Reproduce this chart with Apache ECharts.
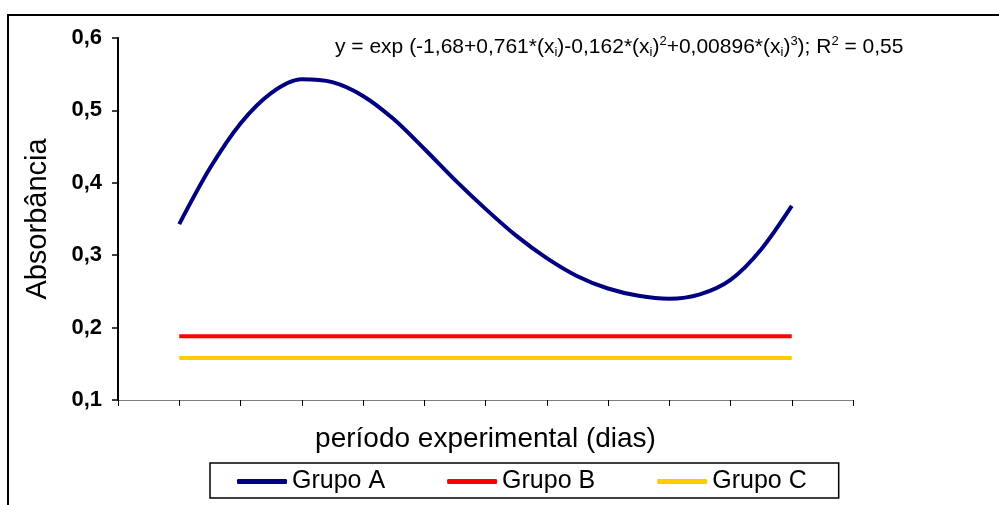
<!DOCTYPE html>
<html>
<head>
<meta charset="utf-8">
<script src="https://cdn.jsdelivr.net/npm/echarts@6/dist/echarts.min.js"></script>
<style>
  html, body { margin: 0; padding: 0; background: #fff; }
  #chart { width: 999px; height: 505px; }
</style>
</head>
<body>
<div id="chart"></div>
<script>
// dias (eixo x) e valores
const diasA = [1, 1.5, 2, 2.5, 3, 3.5, 4, 4.5, 5, 5.5, 6, 6.5, 7, 7.5, 8, 8.5, 9, 9.5, 10, 10.5, 11]
const grupoA = [0.343, 0.420, 0.482, 0.524, 0.543, 0.539, 0.520, 0.488, 0.447, 0.404, 0.364, 0.327, 0.296, 0.271, 0.254, 0.244, 0.240, 0.246, 0.266, 0.308, 0.368]
const diasBC = [1, 11]
const grupoB = [0.188, 0.188]
const grupoC = [0.158, 0.158]
const yTicks = [0.1, 0.2, 0.3, 0.4, 0.5, 0.6]

const pares = (xs, ys) => xs.map((x, i) => [x, ys[i]])

const chart = echarts.init(document.getElementById('chart'))
chart.setOption({
  animation: false,
  textStyle: { fontFamily: 'Liberation Sans, Arial, sans-serif', color: '#000' },
  // moldura externa
  graphic: [{
    type: 'rect',
    shape: { x: 8, y: 15, width: 1200, height: 600 },
    style: { fill: 'none', stroke: '#000', lineWidth: 2 },
    silent: true
  }],
  title: {
    left: 330,
    top: 30,
    text: 'y = exp (-1,68+0,761*(x{s|i})-0,162*(x{s|i}){p|2}+0,00896*(x{s|i}){p|3}); R{p|2} = 0,55',
    textStyle: {
      fontSize: 21,
      fontWeight: 'normal',
      color: '#000',
      rich: {
        s: { fontSize: 13, padding: [9, 0, 0, 0] },
        p: { fontSize: 13, padding: [0, 0, 12, 0] }
      }
    }
  },
  grid: { left: 118, right: 146, top: 38, bottom: 105 },
  xAxis: {
    type: 'value',
    min: 0,
    max: 12,
    interval: 1,
    name: 'período experimental (dias)',
    nameLocation: 'middle',
    nameGap: 25,
    nameTextStyle: { fontSize: 28, color: '#000' },
    axisLine: { lineStyle: { color: '#808080', width: 1 } },
    axisTick: { length: 6, lineStyle: { color: '#000' } },
    axisLabel: { show: false },
    splitLine: { show: false }
  },
  yAxis: {
    type: 'value',
    min: yTicks[0],
    max: yTicks[yTicks.length - 1],
    interval: 0.1,
    name: 'Absorbância',
    nameLocation: 'middle',
    nameGap: 66,
    nameTextStyle: { fontSize: 29, color: '#000' },
    axisLine: { show: true, lineStyle: { color: '#000', width: 2 } },
    axisTick: { show: true, length: 6, lineStyle: { color: '#000', width: 1.5 } },
    axisLabel: {
      fontSize: 22,
      fontWeight: 'bold',
      color: '#000',
      margin: 16,
      formatter: v => v.toFixed(1).replace('.', ',')
    },
    splitLine: { show: false }
  },
  legend: {
    left: 210,
    top: 463,
    orient: 'horizontal',
    icon: 'roundRect',
    itemWidth: 50,
    itemHeight: 5,
    itemGap: 62,
    borderColor: '#000',
    borderWidth: 1.5,
    padding: [6, 32, 4, 27],
    textStyle: { fontSize: 25, color: '#000' },
    data: ['Grupo A', 'Grupo B', 'Grupo C']
  },
  series: [
    {
      name: 'Grupo A',
      type: 'line',
      data: pares(diasA, grupoA),
      smooth: 0.3,
      symbol: 'none',
      lineStyle: { color: '#000080', width: 4 },
      itemStyle: { color: '#000080' }
    },
    {
      name: 'Grupo B',
      type: 'line',
      data: pares(diasBC, grupoB),
      symbol: 'none',
      lineStyle: { color: '#FF0000', width: 4 },
      itemStyle: { color: '#FF0000' }
    },
    {
      name: 'Grupo C',
      type: 'line',
      data: pares(diasBC, grupoC),
      symbol: 'none',
      lineStyle: { color: '#FFCC00', width: 4 },
      itemStyle: { color: '#FFCC00' }
    }
  ]
})
</script>
</body>
</html>
